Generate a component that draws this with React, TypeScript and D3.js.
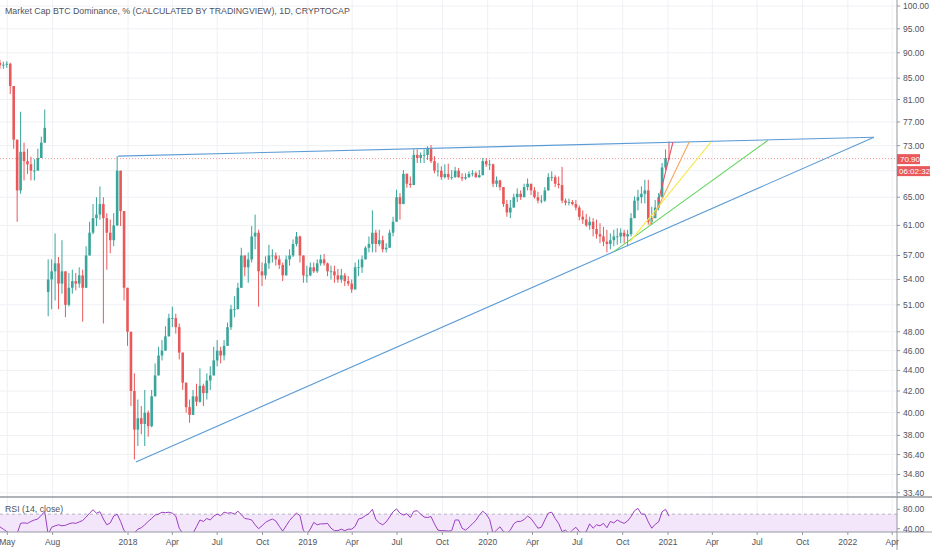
import * as d3 from "d3";

// weekly bars, first bar = week of 2017-04-16
const firstWeek = new Date(2017, 3, 16);

const highs = [
  88.6, 88.2, 88.3, 88.0, 81.5, 73.5, 78.8, 73.5, 72.5, 71.2, 70.8, 72.5, 74.5, 79.2,
  56.5, 56.5, 59.9, 56.8, 59.0, 54.0, 54.8, 55.2, 54.8, 55.5, 55.2, 58.2, 61.5, 64.0,
  65.0, 66.6, 65.0, 62.7, 61.8, 62.7, 71.3, 69.0, 63.0, 53.0, 48.0, 43.7, 41.2, 40.6,
  42.1, 40.2, 42.1, 44.7, 46.4, 47.1, 48.6, 50.0, 50.8, 50.0, 48.9, 45.8, 42.8, 41.2,
  42.1, 42.7, 44.2, 42.7, 43.7, 44.4, 46.4, 47.1, 46.4, 47.1, 49.0, 51.0, 52.0, 53.6,
  58.0, 57.0, 57.4, 60.9, 62.5, 60.4, 56.1, 56.9, 58.4, 57.8, 57.4, 57.0, 56.1, 57.0,
  57.8, 59.1, 60.1, 59.6, 57.0, 55.7, 56.1, 56.1, 56.5, 57.1, 57.2, 56.1, 55.7, 55.7,
  55.3, 55.3, 54.8, 54.4, 54.0, 56.1, 56.5, 57.0, 58.2, 59.5, 63.1, 60.4, 60.4, 59.6,
  58.6, 60.4, 62.2, 66.1, 65.6, 69.1, 68.6, 68.1, 72.4, 72.4, 71.9, 72.4, 72.9, 73.1,
  71.3, 70.2, 69.7, 70.0, 70.1, 69.1, 69.6, 69.4, 68.6, 68.6, 68.9, 69.1, 68.9, 69.1,
  71.0, 71.0, 70.7, 70.1, 68.1, 67.6, 66.5, 64.6, 64.6, 65.5, 66.3, 66.0, 67.0, 67.8,
  67.0, 66.5, 65.8, 65.3, 66.5, 68.6, 68.9, 68.3, 68.1, 69.6, 64.8, 64.8, 64.6, 64.6,
  63.8, 63.1, 62.6, 62.2, 62.0, 61.8, 61.3, 60.8, 60.4, 59.9, 60.4, 60.6, 60.6, 60.4,
  60.4, 62.7, 65.1, 66.1, 66.6, 67.6, 67.6, 63.6, 64.6, 65.6, 70.2, 72.4, 73.7,
];

const lows = [
  86.8, 86.8, 87.0, 82.0, 72.5, 61.5, 65.5, 67.5, 68.5, 67.5, 67.5, 69.5, 71.5, 73.5,
  49.7, 50.5, 51.5, 50.5, 52.3, 49.6, 50.8, 52.3, 52.7, 53.0, 49.1, 53.0, 57.0, 59.8,
  60.9, 61.8, 48.9, 55.2, 57.3, 58.2, 60.9, 60.9, 51.5, 46.5, 40.6, 36.0, 37.1, 38.1,
  37.1, 37.9, 38.7, 41.5, 43.5, 45.0, 46.0, 47.5, 48.5, 47.8, 45.1, 42.1, 40.0, 39.1,
  39.8, 40.6, 40.9, 40.6, 41.2, 42.1, 43.5, 44.4, 44.7, 45.0, 46.5, 48.2, 49.6, 50.5,
  53.0, 54.4, 53.6, 56.1, 57.8, 50.8, 53.2, 54.0, 55.3, 56.1, 55.7, 55.3, 53.8, 54.5,
  55.7, 56.8, 58.2, 56.1, 53.6, 53.6, 54.4, 54.8, 54.8, 55.7, 55.7, 54.4, 54.0, 53.6,
  53.6, 53.6, 53.2, 53.2, 52.4, 52.8, 54.4, 54.8, 56.5, 57.4, 57.4, 57.4, 58.2, 57.4,
  57.4, 58.0, 59.5, 61.5, 61.8, 64.0, 66.4, 66.4, 66.8, 70.2, 70.2, 70.2, 70.7, 70.2,
  68.6, 68.1, 67.6, 67.8, 67.6, 67.6, 67.9, 67.9, 67.4, 67.6, 67.9, 68.1, 67.9, 67.9,
  68.3, 69.6, 69.1, 66.5, 66.5, 66.0, 63.6, 62.2, 62.0, 63.5, 64.3, 64.6, 65.0, 66.0,
  65.3, 64.8, 64.1, 64.1, 64.3, 66.0, 67.4, 66.5, 66.3, 64.1, 63.8, 63.8, 63.8, 63.1,
  61.7, 61.2, 60.8, 60.4, 59.5, 59.2, 58.6, 58.2, 57.4, 57.8, 58.2, 58.4, 58.6, 58.6,
  58.2, 59.5, 62.0, 63.1, 64.1, 64.1, 61.1, 61.1, 62.0, 63.1, 65.0, 69.1, 70.7,
];

const closes = [
  87.5, 87.6, 87.8, 83.5, 74.0, 66.0, 72.0, 70.5, 70.0, 69.0, 69.0, 71.0, 73.5, 76.0,
  54.0, 55.0, 56.0, 53.5, 55.0, 51.0, 53.0, 53.8, 53.5, 54.5, 53.0, 57.0, 60.0, 62.0,
  62.5, 64.0, 62.0, 60.0, 59.0, 61.0, 69.0, 63.0, 53.0, 48.0, 42.0, 38.5, 39.5, 39.0,
  40.0, 38.8, 41.5, 43.5, 45.5, 46.0, 47.5, 49.5, 49.5, 48.5, 45.8, 42.8, 40.5, 39.8,
  41.5, 41.0, 42.5, 41.8, 43.0, 43.5, 45.0, 46.0, 45.5, 46.5, 48.5, 50.5, 50.5, 53.0,
  57.0, 55.5, 56.5, 59.5, 60.0, 55.0, 54.5, 56.0, 57.0, 57.0, 56.5, 55.8, 54.5, 56.5,
  57.0, 58.5, 59.5, 57.0, 54.5, 54.5, 55.5, 55.0, 56.0, 56.5, 56.0, 55.0, 55.0, 54.5,
  54.0, 54.5, 53.8, 53.5, 52.8, 55.5, 55.5, 56.5, 58.0, 58.5, 60.0, 58.5, 59.0, 57.8,
  58.0, 60.0, 61.5, 65.0, 64.0, 68.5, 67.0, 66.8, 71.5, 71.0, 71.5, 71.5, 72.5, 70.5,
  69.0, 69.0, 68.0, 68.5, 68.0, 68.0, 69.0, 68.0, 67.8, 68.0, 68.5, 68.6, 68.0, 68.3,
  70.5, 70.0, 70.0, 67.0, 67.5, 66.5, 64.0, 62.8, 63.5, 65.0, 65.5, 65.0, 66.5, 67.0,
  66.0, 65.0, 64.5, 64.5, 66.0, 68.0, 68.0, 67.0, 66.8, 64.5, 64.2, 64.3, 64.0, 63.5,
  62.2, 61.8, 61.0, 61.5, 60.5, 59.8, 59.5, 58.8, 58.5, 59.0, 59.5, 59.5, 60.0, 59.5,
  59.8, 62.0, 64.5, 65.0, 65.5, 66.0, 61.5, 62.0, 63.5, 65.0, 69.5, 71.0, 70.9,
];

// the series restarts at these weeks (data jump in July 2017)
const restartOpens = [
  { week: 0, open: 88.0 },
  { week: 14, open: 52.5 },
];

const rsiValues = [
  44, 39, 34, 30, 29, 30, 51, 52, 51, 55, 58, 60, 68, 75, 28, 43, 46, 48, 46, 47,
  50, 52, 51, 54, 57, 64, 72, 79, 72, 75, 60, 48, 52, 66, 70, 55, 36, 30, 29, 31,
  39, 42, 48, 55, 61, 68, 70, 74, 73, 74, 72, 66, 41, 30, 28, 29, 31, 44, 58, 55,
  61, 58, 66, 70, 67, 74, 72, 73, 70, 76, 69, 61, 60, 58, 48, 40, 46, 53, 57, 60,
  56, 45, 35, 46, 57, 65, 72, 67, 36, 29, 39, 53, 48, 50, 50, 51, 41, 36, 36, 39,
  36, 39, 39, 45, 60, 62, 67, 71, 80, 59, 52, 48, 54, 64, 75, 81, 72, 68, 71, 63,
  76, 77, 70, 64, 63, 65, 50, 37, 36, 36, 35, 36, 58, 58, 41, 37, 43, 50, 57, 68,
  76, 70, 59, 30, 37, 44, 34, 30, 37, 50, 55, 55, 59, 66, 61, 51, 41, 43, 58, 72,
  74, 61, 51, 34, 37, 30, 37, 43, 34, 30, 34, 50, 41, 48, 46, 51, 42, 55, 52, 58,
  54, 51, 56, 65, 77, 82, 70, 70, 54, 41, 49, 54, 75, 80, 66,
];

const priceTicks = [100, 95, 90, 85, 81, 77, 73, 65, 61, 57, 54, 51, 48, 46, 44, 42, 40, 38, 36.4, 34.8, 33.4];
const priceGrid = [...priceTicks, 69];
const rsiTicks = [80, 40];

const timeTicks = [
  ["2017-05-01", "May"], ["2017-08-01", "Aug"], ["2018-01-01", "2018"], ["2018-04-01", "Apr"],
  ["2018-07-01", "Jul"], ["2018-10-01", "Oct"], ["2019-01-01", "2019"], ["2019-04-01", "Apr"],
  ["2019-07-01", "Jul"], ["2019-10-01", "Oct"], ["2020-01-01", "2020"], ["2020-04-01", "Apr"],
  ["2020-07-01", "Jul"], ["2020-10-01", "Oct"], ["2021-01-01", "2021"], ["2021-04-01", "Apr"],
  ["2021-07-01", "Jul"], ["2021-10-01", "Oct"], ["2022-01-01", "2022"], ["2022-04-01", "Apr"],
];

// drawn trend lines: [start date, value, end date, value, colour]
const trendLines = [
  ["2017-12-12", 71.3, "2022-02-23", 74.4, "#5b9bd5"],
  ["2018-01-17", 35.8, "2022-02-23", 74.4, "#5b9bd5"],
  ["2020-09-13", 57.5, "2021-07-23", 73.9, "#5fd35a"],
  ["2020-10-16", 58.8, "2021-03-29", 73.6, "#f5e94a"],
  ["2020-11-25", 61.1, "2021-02-13", 73.6, "#f5a55a"],
  ["2020-12-12", 64.3, "2021-01-11", 73.6, "#e8506a"],
];

const title = "Market Cap BTC Dominance, % (CALCULATED BY TRADINGVIEW), 1D, CRYPTOCAP";
const lastPrice = 70.9;
const countdown = "06:02:32";

const W = 932;
const H = 550;
const axisX = 897;
const mainBottom = 497;
const rsiBottom = 532;
const font = "'Liberation Sans', Arial, sans-serif";
const up = "#3aa59b";
const down = "#e9585a";

export default function App() {
  const parse = d3.timeParse("%Y-%m-%d");
  const x = d3.scaleTime().domain([new Date(2018, 0, 1), new Date(2021, 0, 1)]).range([128, 668]);
  const y = d3.scaleLog().domain([33.4, 100]).range([492.7, 6]);
  const ry = d3.scaleLinear().domain([40, 80]).range([528.7, 509.3]);
  const weekDate = (i) => d3.timeDay.offset(firstWeek, 7 * i);

  const candles = closes.map((c, i) => {
    const r = restartOpens.find((d) => d.week === i);
    const o = r ? r.open : closes[i - 1];
    return {
      cx: x(weekDate(i)),
      o,
      c,
      h: Math.max(highs[i], o, c),
      l: Math.min(lows[i], o, c),
      up: c >= o,
    };
  });

  const rsiLine = d3
    .line()
    .x((d, i) => x(weekDate(i)))
    .y((d) => ry(d))(rsiValues);

  const gridColor = "#eef0f4";
  const textColor = "#50535e";

  return (
    <svg width={W} height={H} style={{ position: "absolute", left: 0, top: 0, background: "#fff" }} fontFamily={font}>
      <defs>
        <clipPath id="main">
          <rect x={0} y={0} width={axisX} height={mainBottom} />
        </clipPath>
        <clipPath id="rsi">
          <rect x={0} y={mainBottom + 1} width={axisX} height={rsiBottom - mainBottom - 1} />
        </clipPath>
      </defs>
      <rect width={W} height={H} fill="#fff" />

      {/* grid */}
      <g clipPath="url(#main)">
        {priceGrid.map((v) => (
          <line key={v} x1={0} x2={axisX} y1={y(v)} y2={y(v)} stroke={gridColor} />
        ))}
      </g>
      {timeTicks.map(([d]) => (
        <line key={d} x1={x(parse(d))} x2={x(parse(d))} y1={0} y2={rsiBottom} stroke={gridColor} />
      ))}

      {/* RSI pane */}
      <g clipPath="url(#rsi)">
        <rect x={0} y={ry(70)} width={axisX} height={ry(30) - ry(70)} fill="#f3e6fb" />
        <line x1={0} x2={axisX} y1={ry(70)} y2={ry(70)} stroke="#b8b3c2" strokeDasharray="3,3" />
        <path d={rsiLine} fill="none" stroke="#9b3fc2" strokeWidth={1} />
      </g>
      <text x={5} y={512} fontSize={8.8} fill={textColor}>RSI (14, close)</text>

      {/* candles */}
      <g clipPath="url(#main)">
        {candles.map((d, i) => (
          <g key={i} stroke={d.up ? up : down} fill={d.up ? up : down}>
            <line x1={d.cx} x2={d.cx} y1={y(d.h)} y2={y(d.l)} strokeWidth={1} />
            <rect
              x={d.cx - 1.3}
              width={2.6}
              y={y(Math.max(d.o, d.c))}
              height={Math.max(0.8, y(Math.min(d.o, d.c)) - y(Math.max(d.o, d.c)))}
              stroke="none"
            />
          </g>
        ))}
        <line x1={0} x2={axisX} y1={y(lastPrice)} y2={y(lastPrice)} stroke={down} strokeOpacity={0.6} strokeDasharray="1,2" />
        {trendLines.map(([d0, v0, d1, v1, color], i) => (
          <line
            key={i}
            x1={x(parse(d0))}
            y1={y(v0)}
            x2={x(parse(d1))}
            y2={y(v1)}
            stroke={color}
            strokeWidth={1.1}
          />
        ))}
      </g>

      {/* pane borders */}
      <line x1={0} x2={W} y1={mainBottom} y2={mainBottom} stroke="#9598a1" strokeWidth={1.5} />
      <line x1={0} x2={W} y1={rsiBottom} y2={rsiBottom} stroke="#9598a1" strokeWidth={1} />
      <line x1={axisX} x2={axisX} y1={0} y2={H} stroke="#9598a1" strokeWidth={1} />

      {/* price axis */}
      {priceTicks.map((v) => (
        <g key={v}>
          <line x1={axisX} x2={axisX + 3} y1={y(v)} y2={y(v)} stroke="#9598a1" />
          <text x={axisX + 6} y={y(v) + 3} fontSize={8.5} fill={textColor}>
            {v.toFixed(2)}
          </text>
        </g>
      ))}
      {rsiTicks.map((v) => (
        <g key={v}>
          <line x1={axisX} x2={axisX + 3} y1={ry(v)} y2={ry(v)} stroke="#9598a1" />
          <text x={axisX + 6} y={ry(v) + 3} fontSize={8.5} fill={textColor}>
            {v.toFixed(2)}
          </text>
        </g>
      ))}
      <rect x={axisX} y={y(lastPrice) - 4.5} width={23} height={10} fill={down} />
      <text x={axisX + 3} y={y(lastPrice) + 3} fontSize={8} fill="#fff">
        {lastPrice.toFixed(2)}
      </text>
      <rect x={axisX} y={y(lastPrice) + 7.5} width={33} height={10} fill={down} />
      <text x={axisX + 2} y={y(lastPrice) + 15} fontSize={8} fill="#fff">
        {countdown}
      </text>

      {/* time axis */}
      {timeTicks.map(([d, label]) => (
        <g key={d}>
          <line x1={x(parse(d))} x2={x(parse(d))} y1={rsiBottom} y2={rsiBottom + 3} stroke="#9598a1" />
          <text x={x(parse(d))} y={545} fontSize={8.5} fill={textColor} textAnchor="middle">
            {label}
          </text>
        </g>
      ))}

      <text x={5} y={14} fontSize={8.8} fill={textColor}>
        {title}
      </text>
    </svg>
  );
}
